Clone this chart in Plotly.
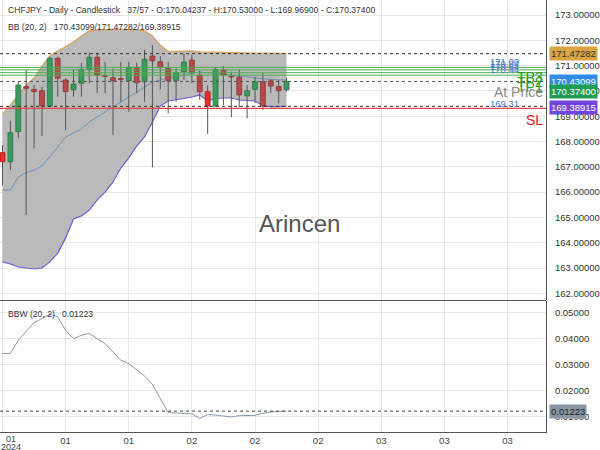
import plotly.graph_objects as go

# ---------------- data ----------------
bar_idx = list(range(37))
opens  = [167.56,167.20,168.39,170.17,170.06,170.01,169.40,171.29,170.43,170.04,
          170.30,170.85,171.33,170.61,170.52,170.49,170.40,170.93,170.36,171.38,
          171.15,170.89,170.40,170.76,171.22,170.63,169.97,169.40,170.83,170.58,
          170.54,169.80,170.06,170.36,170.40,170.17,170.04237]
highs  = [167.86,168.82,170.36,170.83,170.23,170.17,171.35,171.35,170.50,170.85,
          171.11,171.51,171.49,171.15,170.89,171.15,171.15,171.11,171.62,171.81,
          171.38,171.15,170.89,171.46,171.42,170.80,170.23,170.93,170.98,170.76,
          170.85,170.23,170.56,170.70,170.46,170.43,170.53]
lows   = [166.28,166.87,168.13,165.10,167.73,168.22,169.38,169.77,168.45,169.77,
          169.77,170.30,169.91,169.91,168.26,169.57,169.18,169.91,169.57,166.98,
          170.06,169.11,169.57,170.43,170.30,169.64,168.30,169.38,169.44,168.96,
          169.35,168.92,169.53,169.25,169.91,169.51,169.969]
closes = [167.20,168.35,170.23,170.10,169.97,169.40,171.29,170.50,169.97,170.27,
          170.85,171.33,170.63,170.57,170.40,170.45,170.93,170.32,171.25,171.19,
          170.93,170.40,170.72,171.14,170.72,169.97,169.40,170.85,170.63,170.55,
          169.84,170.01,170.36,169.40,170.19,170.01,170.374]
highlighted = [0, 26]

bb_upper = [169.09,169.44,169.84,170.23,170.51,170.98,171.38,171.58,171.74,171.93,
            172.17,172.37,172.41,172.43,172.43,172.43,172.43,172.41,172.37,172.17,
            171.81,171.56,171.56,171.58,171.58,171.54,171.54,171.52,171.52,171.51,
            171.51,171.52,171.52,171.50,171.49,171.48,171.47282]
bb_lower = [163.24,163.16,163.04,163.00,162.96,163.00,163.24,163.59,164.19,164.94,
            165.06,165.29,165.69,166.00,166.40,166.95,167.35,167.82,168.18,168.77,
            169.40,169.60,169.64,169.70,169.76,169.84,169.60,169.70,169.72,169.72,
            169.64,169.62,169.60,169.42,169.38,169.38,169.38915]
bb_mid   = [166.08,166.08,166.60,166.76,166.87,167.03,167.39,167.78,168.18,168.34,
            168.49,168.77,168.97,169.17,169.36,169.56,169.76,169.96,170.15,170.35,
            170.43,170.51,170.55,170.63,170.69,170.75,170.71,170.70,170.67,170.63,
            170.59,170.55,170.51,170.47,170.45,170.44,170.43099]
bbw = [0.0344,0.0344,0.0395,0.0431,0.0463,0.0478,0.0495,0.0485,0.0433,0.0401,
       0.0414,0.0421,0.0403,0.0382,0.0350,0.0318,0.0305,0.0283,0.0258,0.0225,
       0.0169,0.0117,0.0115,0.0114,0.0112,0.0094,0.0109,0.0107,0.0103,0.0100,
       0.0105,0.0106,0.0106,0.0114,0.0119,0.0121,0.01223]

tp_levels = [170.93, 170.83, 170.72, 170.62]
tp_texts = ["171.00", "170.84", "170.64", "170.44"]
sl_level = 169.31
sl_text = "169.31"
bb_last = (170.43099, 171.47282, 169.38915)
last_close = 170.374
bbw_last = 0.01223

x_tick_bars = [0, 8, 16, 24, 32, 40, 48, 56, 64]
x_tick_text = ["", "01", "01", "02", "02", "02", "03", "03", "03"]
first_tick_month = "01"
first_tick_year = "2024"
price_ticks = list(range(162, 174))
bbw_ticks = [0.01, 0.02, 0.03, 0.04, 0.05]

# ---------------- style ----------------
NARROW = "Liberation Sans Narrow, Arial Narrow, Liberation Sans, Arial, sans-serif"
SANS = "Liberation Sans, Arial, sans-serif"
GREEN = "#3d9a5c"
RED = "#b44a4a"
BRIGHT_RED = "#e5302a"
GRID = "#e6e6e6"
AXIS = "#555555"
HALF = 0.31  # half body width in bar units

W, H = 600, 450
ML, MR, MT, MB = 0, 52, 0, 18
PW, PH = W - ML - MR, H - MT - MB

def px(xp):
    return (xp - ML) / PW

def py(yp):
    return (PH - (yp - MT)) / PH

fig = go.Figure()

# Bollinger fill
fig.add_trace(go.Scatter(x=bar_idx, y=bb_upper, mode="lines", line=dict(width=0),
                         hoverinfo="skip", showlegend=False))
fig.add_trace(go.Scatter(x=bar_idx, y=bb_lower, mode="lines", line=dict(width=0),
                         fill="tonexty", fillcolor="#bababa",
                         hoverinfo="skip", showlegend=False))
fig.add_trace(go.Scatter(x=bar_idx, y=bb_upper, mode="lines",
                         line=dict(color="#d4a25c", width=1.2), showlegend=False))
fig.add_trace(go.Scatter(x=bar_idx, y=bb_lower, mode="lines",
                         line=dict(color="#6a5fd8", width=1.2), showlegend=False))
fig.add_trace(go.Scatter(x=bar_idx, y=bb_mid, mode="lines",
                         line=dict(color="#6f8fb5", width=1), showlegend=False))

# horizontal level lines
def hline(yv, color, width=1, dash=None, yref="y", xref="x domain"):
    fig.add_shape(type="line", xref=xref, yref=yref, x0=0, x1=1, y0=yv, y1=yv,
                  line=dict(color=color, width=width, dash=dash), layer="above")

for lv in tp_levels:
    hline(lv, "#4caf50", 1)
hline(sl_level, "#e04848", 1.4)
hline(bb_last[1], "#333333", 1, "3px,3px")
hline(last_close, "#555555", 1, "3px,3px")
hline(bb_last[2], "#333333", 1, "3px,3px")

# wicks
wx, wy = [], []
for i, h, l in zip(bar_idx, highs, lows):
    wx += [i, i, None]
    wy += [l, h, None]
fig.add_trace(go.Scatter(x=wx, y=wy, mode="lines", line=dict(color="#555555", width=1),
                         hoverinfo="skip", showlegend=False))

# bodies as filled polygons (so they sit above the band fill)
groups = {"g": ([], [], GREEN, "#2c7444"), "r": ([], [], RED, "#8c3333"),
          "b": ([], [], BRIGHT_RED, "#b01818")}
for i, o, c in zip(bar_idx, opens, closes):
    key = "b" if i in highlighted else ("g" if c >= o else "r")
    gx, gy = groups[key][0], groups[key][1]
    gx += [i - HALF, i + HALF, i + HALF, i - HALF, i - HALF, None]
    gy += [o, o, c, c, o, None]
for gx, gy, fc, lc in groups.values():
    fig.add_trace(go.Scatter(x=gx, y=gy, mode="lines", fill="toself", fillcolor=fc,
                             line=dict(color=lc, width=0.8), hoverinfo="skip",
                             showlegend=False))

# BBW
fig.add_trace(go.Scatter(x=bar_idx, y=bbw, mode="lines", line=dict(color="#8c9ab0", width=1),
                         xaxis="x2", yaxis="y2", showlegend=False))
fig.add_shape(type="line", xref="x2 domain", yref="y2", x0=0, x1=1, y0=bbw_last, y1=bbw_last,
              line=dict(color="#444444", width=1, dash="3px,3px"))

# separator between panels
fig.add_shape(type="line", xref="paper", yref="paper", x0=0, x1=1, y0=py(300.5), y1=py(300.5),
              line=dict(color=AXIS, width=1))

ann = []
HF = 8.6
header = ("CHFJPY - Daily - Candlestick   37/57 - O:%.5f - H:%.5f - L:%.5f - C:%.5f"
          % (opens[-1], highs[-1], lows[-1], closes[-1]))
ann.append(dict(text=header, x=px(6), y=py(10), xref="paper", yref="paper",
                xanchor="left", yanchor="middle", showarrow=False,
                font=dict(family=NARROW, size=HF, color="#333")))
ann.append(dict(text="BB (20, 2)   %.5f/%.5f/%.5f" % bb_last, x=px(6), y=py(27),
                xref="paper", yref="paper", xanchor="left", yanchor="middle", showarrow=False,
                font=dict(family=NARROW, size=HF, color="#333")))
ann.append(dict(text="BBW (20, 2)   %.5f" % bbw_last, x=px(6), y=py(314),
                xref="paper", yref="paper", xanchor="left", yanchor="middle", showarrow=False,
                font=dict(family=NARROW, size=HF, color="#333")))
# watermark
ann.append(dict(text="Arincen", x=px(301), y=py(223), xref="paper", yref="paper",
                xanchor="center", yanchor="middle", showarrow=False,
                font=dict(family=SANS, size=24, color="#555")))
# blue level texts
for lv, t in zip(tp_levels, tp_texts):
    ann.append(dict(text=t, x=px(490), y=lv, xref="paper", yref="y", xanchor="left",
                    yanchor="middle", yshift=6, showarrow=False,
                    font=dict(family=NARROW, size=9.5, color="#4a78d0")))
ann.append(dict(text=sl_text, x=px(490), y=sl_level, xref="paper", yref="y", xanchor="left",
                yanchor="middle", yshift=5, showarrow=False,
                font=dict(family=NARROW, size=9.5, color="#4a78d0")))
# TP / At Price / SL labels
for t, yp in [("TP3", 77), ("TP2", 82), ("TP1", 87)]:
    ann.append(dict(text=t, x=px(547), y=py(yp), xref="paper", yref="paper", xanchor="right",
                    yanchor="middle", showarrow=False,
                    font=dict(family=SANS, size=14, color="#2e9a2e")))
ann.append(dict(text="At Price", x=px(547), y=py(92), xref="paper", yref="paper", xanchor="right",
                yanchor="middle", showarrow=False, font=dict(family=SANS, size=14, color="#8a8a8a")))
ann.append(dict(text="SL", x=px(547), y=py(120), xref="paper", yref="paper", xanchor="right",
                yanchor="middle", showarrow=False, font=dict(family=SANS, size=14, color="#e02020")))
# right price boxes
for val, bg, fg, shift in [(bb_last[1], "#d9a441", "#333", 0),
                           (bb_last[0], "#2f8ce6", "#fff", -1),
                           (last_close, "#1f9d55", "#fff", -10),
                           (bb_last[2], "#7145e0", "#fff", -1)]:
    ann.append(dict(text="%.5f" % val, x=1, xshift=3, y=val, xref="paper", yref="y",
                    xanchor="left", yanchor="middle", yshift=shift, showarrow=False,
                    bgcolor=bg, borderpad=1, font=dict(family=NARROW, size=9.5, color=fg)))
ann.append(dict(text="%.5f" % bbw_last, x=1, xshift=3, y=bbw_last, xref="paper", yref="y2",
                xanchor="left", yanchor="middle", showarrow=False,
                bgcolor="#8796a3", borderpad=1, font=dict(family=NARROW, size=9.5, color="#222")))
# first x label (month + year)
ann.append(dict(text=first_tick_month, x=px(11.5), y=py(439), xref="paper", yref="paper",
                xanchor="center", yanchor="middle", showarrow=False,
                font=dict(family=NARROW, size=9, color="#444")))
ann.append(dict(text=first_tick_year, x=px(11.5), y=py(446.5), xref="paper", yref="paper",
                xanchor="center", yanchor="middle", showarrow=False,
                font=dict(family=NARROW, size=9, color="#444")))

xr = [-2.5 / 7.92, (548 - 2.5) / 7.92]
common_x = dict(range=xr, tickmode="array", tickvals=x_tick_bars, showgrid=True,
                gridcolor=GRID, gridwidth=1, zeroline=False, fixedrange=True)

fig.update_layout(
    width=W, height=H, margin=dict(l=ML, r=MR, t=MT, b=MB),
    paper_bgcolor="white", plot_bgcolor="white", showlegend=False,
    annotations=ann,
    xaxis=dict(**common_x, anchor="y", showticklabels=False, ticks=""),
    xaxis2=dict(**common_x, anchor="y2", matches="x", ticktext=x_tick_text,
                showline=True, linecolor=AXIS, linewidth=1, ticks="",
                tickfont=dict(family=NARROW, size=9.5, color="#444")),
    yaxis=dict(domain=[py(300), 1], range=[161.735, 173.593], side="right",
               tickvals=price_ticks, ticktext=["%.5f" % v for v in price_ticks],
               showgrid=True, gridcolor=GRID, zeroline=False, showline=True,
               linecolor=AXIS, linewidth=1, ticks="", ticklabelstandoff=6,
               tickfont=dict(family=NARROW, size=9.5, color="#333"), anchor="x"),
    yaxis2=dict(domain=[0, py(301)], range=[0.0042, 0.0546], side="right",
                tickvals=bbw_ticks, ticktext=["%.5f" % v for v in bbw_ticks],
                showgrid=True, gridcolor=GRID, zeroline=False, showline=True,
                linecolor=AXIS, linewidth=1, ticks="", ticklabelstandoff=6,
                tickfont=dict(family=NARROW, size=9.5, color="#333"), anchor="x2"),
)

fig.write_html("out.html")
